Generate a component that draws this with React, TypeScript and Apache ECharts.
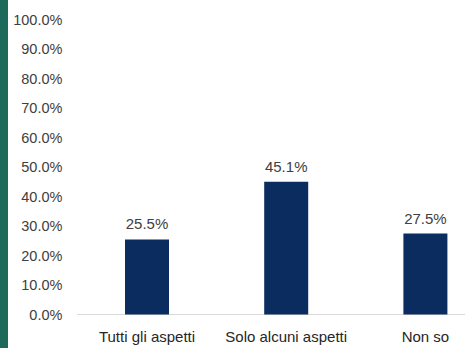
import React, { useEffect, useRef } from "react";
import * as echarts from "echarts";

const categories = ["Tutti gli aspetti", "Solo alcuni aspetti", "Non so"];
const values = [25.5, 45.1, 27.5];

export default function App() {
  const ref = useRef<HTMLDivElement>(null);
  useEffect(() => {
    if (!ref.current) return;
    const chart = echarts.init(ref.current, null, { renderer: "svg" });
    chart.setOption({
      animation: false,
      backgroundColor: "#ffffff",
      textStyle: { fontFamily: "Liberation Sans, Arial, sans-serif" },
      graphic: [
        {
          type: "rect",
          left: 0,
          top: 0,
          shape: { x: 0, y: 0, width: 8, height: 348 },
          style: { fill: "#1e6a5a" },
          z: 10,
        },
      ],
      grid: { left: 77.4, right: 5, top: 20, bottom: 33.5, containLabel: false },
      xAxis: {
        type: "category",
        data: categories,
        axisLine: { show: true, lineStyle: { color: "#d9d9d9", width: 1 } },
        axisTick: { show: false },
        axisLabel: {
          color: "#262626",
          fontSize: 15,
          margin: 14,
          interval: 0,
        },
      },
      yAxis: {
        type: "value",
        min: 0,
        max: 100,
        interval: 10,
        splitLine: { show: false },
        axisLine: { show: false },
        axisTick: { show: false },
        axisLabel: {
          color: "#404040",
          fontSize: 14.5,
          margin: 15,
          formatter: (v: number) => v.toFixed(1) + "%",
        },
      },
      series: [
        {
          type: "bar",
          data: values,
          barWidth: 44,
          itemStyle: { color: "#0b2c5e" },
          label: {
            show: true,
            position: "top",
            distance: 8,
            color: "#404040",
            fontSize: 15,
            formatter: (p: any) => p.value.toFixed(1) + "%",
          },
        },
      ],
    });
    return () => chart.dispose();
  }, []);
  return (
    <div
      style={{
        position: "fixed",
        left: 0,
        top: 0,
        width: 465,
        height: 348,
        overflow: "hidden",
        background: "#ffffff",
      }}
    >
      <div ref={ref} style={{ width: 500, height: 348 }} />
    </div>
  );
}
